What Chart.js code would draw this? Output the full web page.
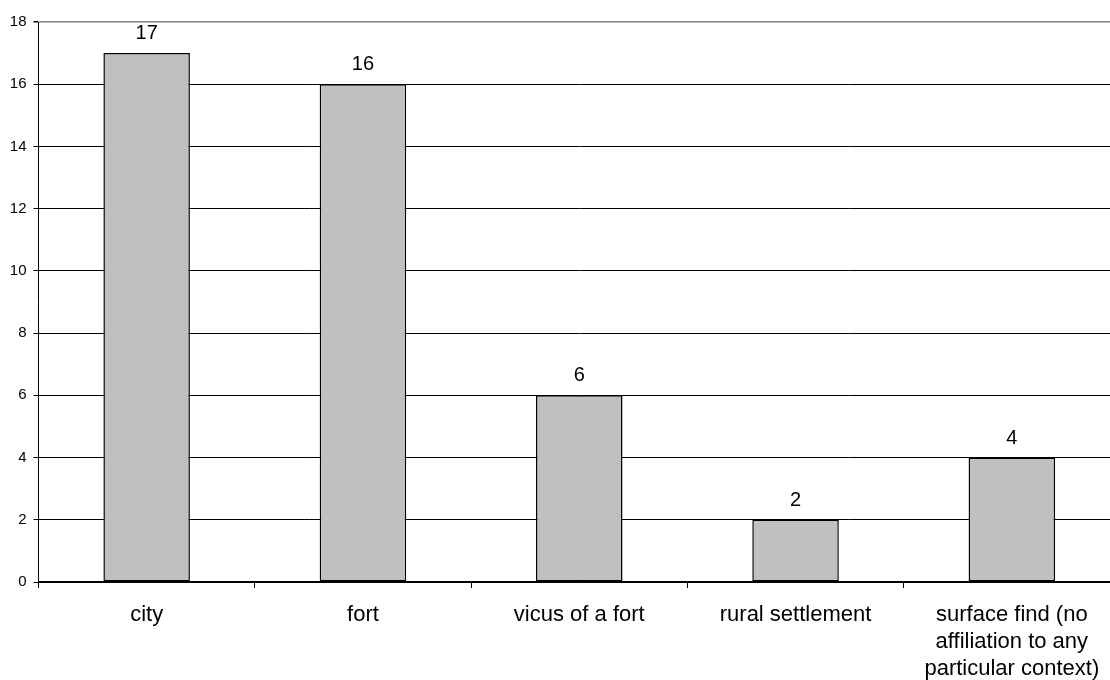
<!DOCTYPE html>
<html>
<head>
<meta charset="utf-8">
<script src="https://cdn.jsdelivr.net/npm/chart.js@4.4.1/dist/chart.umd.min.js"></script>
<style>
  html, body { margin: 0; padding: 0; background: #fff; overflow: hidden; }
  #wrap { width: 1120px; height: 680px; }
</style>
</head>
<body>
<div id="wrap"><canvas id="c" width="1120" height="680"></canvas></div>
<script>
// Find contexts by site type
const categories = [
  'city',
  'fort',
  'vicus of a fort',
  'rural settlement',
  ['surface find (no', 'affiliation to any', 'particular context)']
];
const counts = [17, 16, 6, 2, 4];
const yTicks = [0, 2, 4, 6, 8, 10, 12, 14, 16, 18];

const FONT = '"Liberation Sans", Arial, sans-serif';

// Draws each bar's value just above it
const valueLabels = {
  id: 'valueLabels',
  afterDatasetsDraw(chart) {
    const ctx = chart.ctx;
    const meta = chart.getDatasetMeta(0);
    ctx.save();
    ctx.font = '20px ' + FONT;
    ctx.fillStyle = '#000';
    ctx.textAlign = 'center';
    ctx.textBaseline = 'alphabetic';
    meta.data.forEach((bar, i) => {
      ctx.fillText(String(chart.data.datasets[0].data[i]), bar.x, bar.y - 14);
    });
    ctx.restore();
  }
};

new Chart(document.getElementById('c'), {
  type: 'bar',
  data: {
    labels: categories,
    datasets: [{
      data: counts,
      backgroundColor: '#c0c0c0',
      borderColor: '#000',
      borderWidth: 1.5,
      borderSkipped: false,
      barPercentage: 0.4,
      categoryPercentage: 1.0
    }]
  },
  options: {
    responsive: false,
    animation: false,
    devicePixelRatio: 1,
    layout: { padding: { top: 22, right: 0, left: 0, bottom: 0 } },
    plugins: {
      legend: { display: false },
      tooltip: { enabled: false }
    },
    scales: {
      x: {
        offset: true,
        grid: {
          offset: true,
          drawOnChartArea: false,
          drawTicks: true,
          tickLength: 6,
          tickColor: '#000'
        },
        border: { color: '#000', width: 1.5 },
        ticks: {
          color: '#000',
          font: { family: FONT, size: 22, lineHeight: 1.22 },
          maxRotation: 0,
          autoSkip: false,
          padding: 14
        },
        afterFit(scale) { scale.height = 98; }
      },
      y: {
        min: 0,
        max: 18,
        afterBuildTicks(scale) { scale.ticks = yTicks.map(v => ({ value: v })); },
        grid: {
          color: (c) => (c.tick && c.tick.value === 18 ? '#808080' : '#000'),
          lineWidth: (c) => (c.tick && c.tick.value === 18 ? 1.5 : 1),
          drawTicks: true,
          tickLength: 5,
          tickColor: '#000'
        },
        border: { color: '#000', width: 1 },
        ticks: {
          color: '#000',
          font: { family: FONT, size: 15 },
          padding: 7
        },
        afterFit(scale) { scale.width = 38.5; }
      }
    }
  },
  plugins: [valueLabels]
});
</script>
</body>
</html>
